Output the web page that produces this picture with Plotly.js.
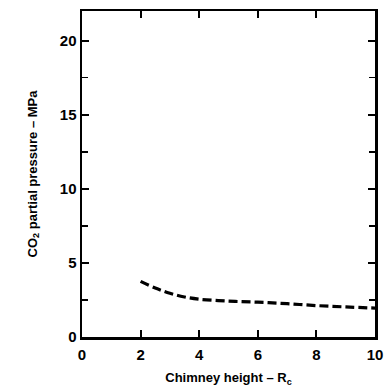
<!DOCTYPE html>
<html><head><meta charset="utf-8">
<script src="https://cdn.plot.ly/plotly-3.0.1.min.js"></script>
<style>html,body{margin:0;padding:0;background:#fff}#c{width:388px;height:389px}</style>
</head><body><div id="c"></div>
<script>
const chimneyHeight = [2, 2.5, 3, 3.5, 4, 5, 6, 7, 8, 9, 10];
const co2Pressure = [3.75, 3.3, 2.95, 2.7, 2.55, 2.42, 2.35, 2.25, 2.12, 2.03, 1.95];
const xTicks = [0, 2, 4, 6, 8, 10];
const yTicks = [0, 5, 10, 15, 20];

const fontFam = 'Liberation Sans, Arial, sans-serif';
const axisCommon = {
  showline: true, mirror: 'ticks', linecolor: '#000', linewidth: 2.5,
  ticks: 'inside', ticklen: 7, tickwidth: 2, tickcolor: '#000',
  showgrid: false, zeroline: false,
  tickfont: {family: fontFam, size: 15, color: '#000', weight: 'bold'}
};
Plotly.newPlot('c', [{
  x: chimneyHeight, y: co2Pressure, mode: 'lines', type: 'scatter',
  line: {color: '#000', width: 3.2, dash: '9px,4px', shape: 'spline'},
  showlegend: false, hoverinfo: 'none'
}], {
  width: 388, height: 389,
  margin: {l: 82, r: 13, t: 11, b: 52},
  paper_bgcolor: '#fff', plot_bgcolor: '#fff',
  xaxis: Object.assign({}, axisCommon, {
    range: [0, 10], tickvals: xTicks, ticktext: xTicks.map(String),
    ticklabelstandoff: 2,
    title: {text: 'Chimney height – R<sub>c</sub>', standoff: 12,
      font: {family: fontFam, size: 13, color: '#000', weight: 'bold'}}
  }),
  yaxis: Object.assign({}, axisCommon, {
    range: [0, 22], tickvals: yTicks, ticktext: yTicks.map(String),
    minor: {dtick: 2.5, ticks: 'inside', ticklen: 6, tickwidth: 1.5, tickcolor: '#000', showgrid: false},
    title: {text: 'CO<sub>2</sub> partial pressure – MPa', standoff: 20,
      font: {family: fontFam, size: 13, color: '#000', weight: 'bold'}}
  })
}, {staticPlot: true});
</script></body></html>
